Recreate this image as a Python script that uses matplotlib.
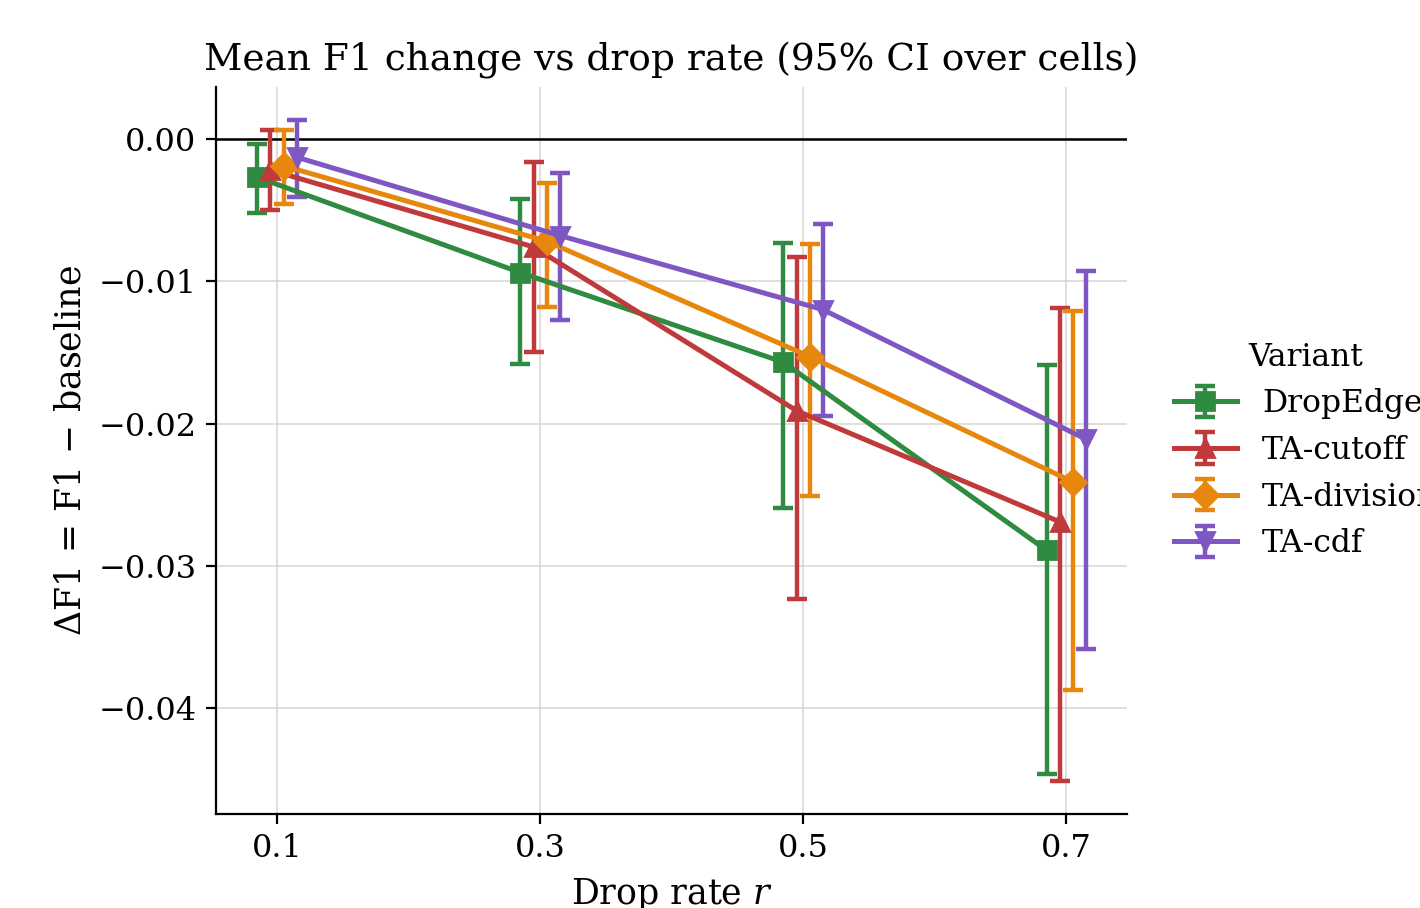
import numpy as np
import matplotlib
matplotlib.use("Agg")
import matplotlib.pyplot as plt

plt.rcParams['font.family'] = ['DejaVu Serif']
plt.rcParams['mathtext.fontset'] = 'dejavuserif'

# drop rates and per-variant offsets so the bars don't overlap
rates = [0.1, 0.3, 0.5, 0.7]
variants = ["DropEdge", "TA-cutoff", "TA-division", "TA-cdf"]
offsets = [-0.015, -0.005, 0.005, 0.015]
colors = ["#2e8b3f", "#c0393b", "#e8870e", "#7e57c2"]
markers = ["s", "^", "D", "v"]

# mean delta F1 and 95% CI bounds
mean_dropedge = [-0.0027, -0.0094, -0.0157, -0.0289]
lo_dropedge = [-0.0052, -0.0158, -0.0259, -0.0446]
hi_dropedge = [-0.0004, -0.0042, -0.0073, -0.0159]

mean_cutoff = [-0.0022, -0.0076, -0.0191, -0.0269]
lo_cutoff = [-0.0050, -0.0150, -0.0323, -0.0451]
hi_cutoff = [0.0006, -0.0016, -0.0083, -0.0119]

mean_division = [-0.0019, -0.0072, -0.0153, -0.0241]
lo_division = [-0.0046, -0.0118, -0.0251, -0.0387]
hi_division = [0.0006, -0.0031, -0.0074, -0.0121]

mean_cdf = [-0.0013, -0.0068, -0.0120, -0.0211]
lo_cdf = [-0.0041, -0.0127, -0.0195, -0.0358]
hi_cdf = [0.0013, -0.0024, -0.0060, -0.0093]

means = [mean_dropedge, mean_cutoff, mean_division, mean_cdf]
lows = [lo_dropedge, lo_cutoff, lo_division, lo_cdf]
highs = [hi_dropedge, hi_cutoff, hi_division, hi_cdf]

fig = plt.figure(figsize=(7.1, 4.54), dpi=200)
ax = fig.add_axes([0.152, 0.1035, 0.642, 0.8005])

for name, off, c, mk, m, lo, hi in zip(variants, offsets, colors, markers, means, lows, highs):
    x = np.array(rates) + off
    m = np.array(m)
    yerr = [m - np.array(lo), np.array(hi) - m]
    ax.errorbar(x, m, yerr=yerr, color=c, marker=mk, markersize=6.5, linewidth=1.8,
                elinewidth=1.6, capsize=3.5, capthick=1.6, label=name)

ax.axhline(0, color="black", linewidth=0.9, zorder=1)
ax.grid(True, color="#d0d0d0", linewidth=0.6, alpha=0.8)
ax.set_axisbelow(True)
ax.spines['top'].set_visible(False)
ax.spines['right'].set_visible(False)

ax.set_xticks(rates)
ax.set_xticklabels(["0.1", "0.3", "0.5", "0.7"])
ax.tick_params(labelsize=11.5)
ax.set_xlabel("Drop rate $r$", fontsize=12.5)
ax.set_ylabel(r"$\Delta\mathrm{F1}\,=\,\mathrm{F1}\,-\,\mathrm{baseline}$", fontsize=12.5)
ax.set_title("Mean F1 change vs drop rate (95% CI over cells)", fontsize=13.5)

ax.legend(title="Variant", loc="center left", bbox_to_anchor=(1.02, 0.5), frameon=False,
          fontsize=11.3, title_fontsize=11.3)

fig.savefig("out.png", dpi=200)
